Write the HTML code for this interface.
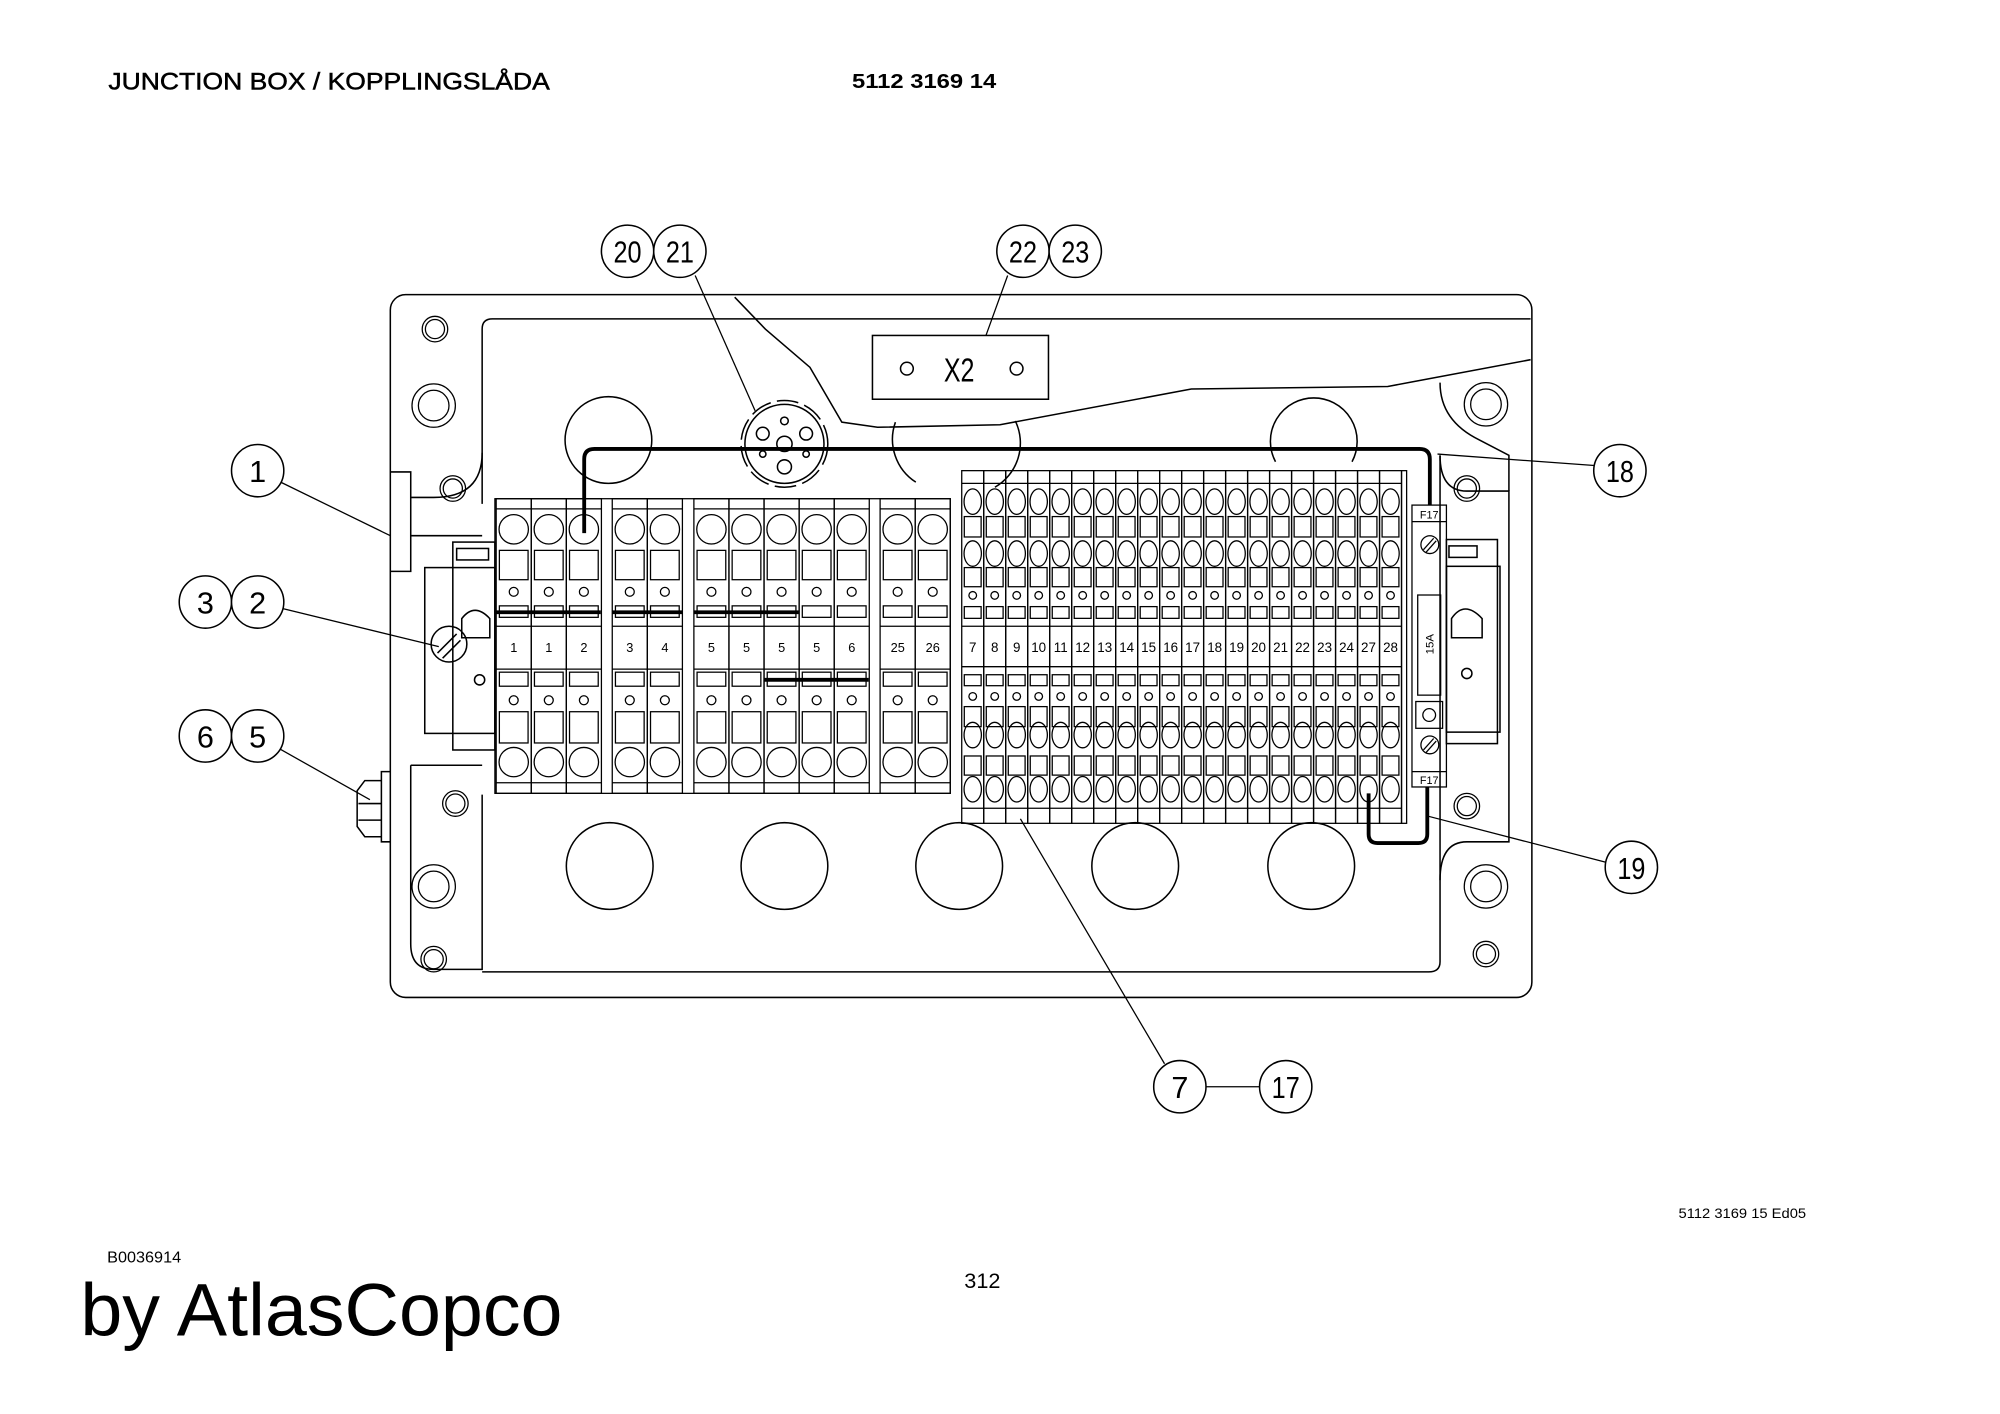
<!DOCTYPE html>
<html><head><meta charset="utf-8"><style>
html,body{margin:0;padding:0;background:#fff;}
svg{display:block;}
text{font-family:"Liberation Sans",sans-serif;}
</style></head><body>
<svg width="2000" height="1414" viewBox="0 0 1568 1108.6" xmlns="http://www.w3.org/2000/svg">
<defs>
<g id="lc" fill="none" stroke="#000" stroke-width="1">
 <rect x="0" y="391" width="27.5" height="231"/>
 <circle cx="13.75" cy="415" r="11.5"/>
 <rect x="2.5" y="431.5" width="22.5" height="23"/>
 <circle cx="13.75" cy="464" r="3.5"/>
 <rect x="2.5" y="475" width="22.5" height="9"/>
 <line x1="0" y1="491" x2="27.5" y2="491"/>
 <line x1="0" y1="524.6" x2="27.5" y2="524.6"/>
 <rect x="2.5" y="527" width="22.5" height="11"/>
 <circle cx="13.75" cy="549" r="3.5"/>
 <rect x="2.5" y="558" width="22.5" height="24.5"/>
 <circle cx="13.75" cy="597.5" r="11.5"/>
 <line x1="0" y1="399" x2="27.5" y2="399"/>
 <line x1="0" y1="613.7" x2="27.5" y2="613.7"/>
</g>
<g id="rc" fill="none" stroke="#000" stroke-width="1">
 <rect x="0" y="369" width="17.24" height="276.5"/>
 <line x1="0" y1="379" x2="17.24" y2="379"/>
 <ellipse cx="8.62" cy="393.3" rx="6.8" ry="10"/>
 <rect x="2" y="405" width="13.2" height="16"/>
 <ellipse cx="8.62" cy="434" rx="6.8" ry="10"/>
 <rect x="2" y="445" width="13.2" height="15"/>
 <circle cx="8.62" cy="466.8" r="3"/>
 <rect x="2" y="475.6" width="13.2" height="9.2"/>
 <line x1="0" y1="491" x2="17.24" y2="491"/>
 <line x1="0" y1="522.7" x2="17.24" y2="522.7"/>
 <rect x="2" y="529" width="13.2" height="8.6"/>
 <circle cx="8.62" cy="546" r="3"/>
 <rect x="2" y="554" width="13.2" height="15.7"/>
 <ellipse cx="8.62" cy="576.3" rx="6.8" ry="10"/>
 <rect x="2" y="592.7" width="13.2" height="15"/>
 <ellipse cx="8.62" cy="618.8" rx="6.8" ry="10"/>
 <line x1="0" y1="633.7" x2="17.24" y2="633.7"/>
</g>
<g id="sh" fill="none" stroke="#000" stroke-width="1"><circle r="10"/><circle r="7.5"/></g>
<g id="bh" fill="none" stroke="#000" stroke-width="1"><circle r="17"/><circle r="12"/></g>
</defs>

<text x="85" y="70" font-size="19" stroke="#000" stroke-width="0.4" textLength="346" lengthAdjust="spacingAndGlyphs">JUNCTION BOX / KOPPLINGSLÅDA</text>
<text x="668" y="69" font-size="16" font-weight="bold" textLength="113" lengthAdjust="spacingAndGlyphs">5112 3169 14</text>

<g fill="none" stroke="#000" stroke-width="1.2">
 <rect x="306" y="231" width="895" height="551" rx="12"/>
 <path d="M378 395 L378 258 Q378 250 386 250 L1200 250"/>
 <path d="M306 370 L322 370 L322 448 L306 448"/>
 <path d="M322 390 L340 390 Q378 390 378 355"/>
 <path d="M322 420 L378 420"/>
 <path d="M322 600 L378 600 M322 600 L322 740 Q322 760 340 760 L378 760 L378 623"/>
 <path d="M378 762 L1120 762 Q1129 762 1129 754 L1129 357"/>
 <path d="M1129 357 Q1129 385 1150 385 L1183 385 L1183 660 L1150 660 Q1129 660 1129 690"/>
 <path d="M1129 300 Q1129 330 1160 345 L1183 357 L1183 385"/>
 <path d="M576 233 L600 258 L635 288 L660 331 L688 335 L784 333 L934 305 L1088 303 L1200 282"/>
 <rect x="333" y="445" width="55" height="130"/>
 <rect x="355" y="425" width="33" height="163"/>
 <rect x="358" y="430" width="25" height="9"/>
 <path d="M362 500 L362 485 Q372 472 384 485 L384 500 Z"/>
 <circle cx="376" cy="533" r="4"/>
 <circle cx="352" cy="505" r="14"/>
 <line x1="343" y1="512" x2="358" y2="497"/><line x1="347" y1="516" x2="361" y2="502"/>
 <rect x="1134" y="423" width="40" height="160"/>
 <rect x="1134" y="444" width="42" height="130"/>
 <rect x="1136" y="428" width="22" height="9"/>
 <path d="M1138 500 L1138 485 Q1148 470 1162 485 L1162 500 Z"/>
 <circle cx="1150" cy="528" r="4"/>
 <path d="M306 605 L299 605 L299 660 L306 660 M299 612 L286 612 L280 620 L280 648 L286 656 L299 656 M281 630 L299 630 M281 643 L299 643"/>
 <circle cx="477" cy="345" r="34"/>
 <path d="M718 378 A40 40 0 0 1 702 331 M796 330 A40 40 0 0 1 780 382"/>
 <path d="M1000 362 A34 34 0 1 1 1060 362"/>
 <circle cx="478" cy="679" r="34"/><circle cx="615" cy="679" r="34"/><circle cx="752" cy="679" r="34"/>
 <circle cx="890" cy="679" r="34"/><circle cx="1028" cy="679" r="34"/>
 <rect x="684" y="263" width="138" height="50"/>
 <circle cx="711" cy="289" r="5"/><circle cx="797" cy="289" r="5"/>
 <circle cx="615" cy="348" r="31"/>
 <circle cx="615" cy="348" r="34" stroke-dasharray="17 5"/>
 <circle cx="615" cy="330" r="3"/><circle cx="598" cy="340" r="5"/><circle cx="632" cy="340" r="5"/>
 <circle cx="615" cy="348" r="6"/><circle cx="598" cy="356" r="2.5"/><circle cx="632" cy="356" r="2.5"/><circle cx="615" cy="366" r="5.5"/>
</g>
<text x="752" y="299" font-size="26" text-anchor="middle" textLength="24" lengthAdjust="spacingAndGlyphs">X2</text>
<g>
 <use href="#sh" x="341" y="258"/><use href="#bh" x="340" y="318"/><use href="#sh" x="355" y="383"/>
 <use href="#sh" x="357" y="630"/><use href="#bh" x="340" y="695"/><use href="#sh" x="340" y="752"/>
 <use href="#sh" x="1150" y="383"/><use href="#bh" x="1165" y="317"/>
 <use href="#sh" x="1150" y="632"/><use href="#bh" x="1165" y="695"/><use href="#sh" x="1165" y="748"/>
</g>

<rect x="388" y="391" width="357" height="231" fill="none" stroke="#000"/>
<g>
 <use href="#lc" x="389"/><use href="#lc" x="416.5"/><use href="#lc" x="444"/>
 <use href="#lc" x="480"/><use href="#lc" x="507.5"/>
 <use href="#lc" x="544"/><use href="#lc" x="571.5"/><use href="#lc" x="599"/><use href="#lc" x="626.5"/><use href="#lc" x="654"/>
 <use href="#lc" x="690"/><use href="#lc" x="717.5"/>
</g>
<g stroke="#000" stroke-width="3">
 <line x1="389" y1="480" x2="471" y2="480"/><line x1="480" y1="480" x2="535" y2="480"/><line x1="544" y1="480" x2="626" y2="480"/>
 <line x1="599" y1="533" x2="681" y2="533"/>
</g>
<g font-size="10" text-anchor="middle">
 <text x="402.8" y="511">1</text><text x="430.3" y="511">1</text><text x="457.8" y="511">2</text>
 <text x="493.8" y="511">3</text><text x="521.3" y="511">4</text>
 <text x="557.8" y="511">5</text><text x="585.3" y="511">5</text><text x="612.8" y="511">5</text><text x="640.3" y="511">5</text><text x="667.8" y="511">6</text>
 <text x="703.8" y="511">25</text><text x="731.3" y="511">26</text>
</g>

<g>
 <use href="#rc" x="754"/><use href="#rc" x="771.24"/><use href="#rc" x="788.48"/><use href="#rc" x="805.72"/><use href="#rc" x="822.96"/>
 <use href="#rc" x="840.2"/><use href="#rc" x="857.44"/><use href="#rc" x="874.68"/><use href="#rc" x="891.92"/><use href="#rc" x="909.16"/>
 <use href="#rc" x="926.4"/><use href="#rc" x="943.64"/><use href="#rc" x="960.88"/><use href="#rc" x="978.12"/><use href="#rc" x="995.36"/>
 <use href="#rc" x="1012.6"/><use href="#rc" x="1029.84"/><use href="#rc" x="1047.08"/><use href="#rc" x="1064.32"/><use href="#rc" x="1081.56"/>
</g>
<rect x="1098.8" y="369" width="4" height="276.5" fill="none" stroke="#000"/>
<g font-size="10.5" text-anchor="middle">
 <text x="762.6" y="511">7</text><text x="779.9" y="511">8</text><text x="797.1" y="511">9</text><text x="814.3" y="511">10</text><text x="831.6" y="511">11</text>
 <text x="848.8" y="511">12</text><text x="866.1" y="511">13</text><text x="883.3" y="511">14</text><text x="900.5" y="511">15</text><text x="917.8" y="511">16</text>
 <text x="935" y="511">17</text><text x="952.3" y="511">18</text><text x="969.5" y="511">19</text><text x="986.7" y="511">20</text><text x="1004" y="511">21</text>
 <text x="1021.2" y="511">22</text><text x="1038.5" y="511">23</text><text x="1055.7" y="511">24</text><text x="1072.9" y="511">27</text><text x="1090.2" y="511">28</text>
</g>

<g fill="none" stroke="#000" stroke-width="1">
 <rect x="1107" y="396" width="27" height="221"/>
 <line x1="1107" y1="409" x2="1134" y2="409"/>
 <line x1="1107" y1="605" x2="1134" y2="605"/>
 <circle cx="1121" cy="427" r="7"/><line x1="1116" y1="431" x2="1124" y2="422"/><line x1="1118" y1="433" x2="1126" y2="424"/>
 <rect x="1111.5" y="466.5" width="18" height="78.5"/>
 <rect x="1110" y="550" width="21" height="21"/><circle cx="1120.5" cy="560.6" r="5"/>
 <circle cx="1121" cy="584" r="7"/><line x1="1116" y1="588" x2="1124" y2="579"/><line x1="1118" y1="590" x2="1126" y2="581"/>
</g>
<text x="1120.5" y="406.5" font-size="8.5" text-anchor="middle">F17</text>
<text x="1120.5" y="614.5" font-size="8.5" text-anchor="middle">F17</text>
<text x="0" y="0" font-size="9" text-anchor="middle" transform="translate(1124 505) rotate(-90)">15A</text>

<g fill="none" stroke="#000" stroke-width="3" stroke-linejoin="round">
 <path d="M458 418 L458 360 Q458 352 466 352 L1113 352 Q1121 352 1121 360 L1121 396"/>
 <path d="M1073 622 L1073 654 Q1073 661 1080 661 L1112 661 Q1119 661 1119 654 L1119 617"/>
</g>

<g fill="none" stroke="#000" stroke-width="1">
 <line x1="545" y1="216" x2="592" y2="322"/>
 <line x1="790" y1="216" x2="773" y2="263"/>
 <line x1="220" y1="378" x2="306" y2="420"/>
 <line x1="221" y1="477" x2="344" y2="507"/>
 <line x1="219" y1="587" x2="290" y2="627"/>
 <line x1="1250" y1="365" x2="1127" y2="356"/>
 <line x1="1259" y1="676" x2="1120" y2="640"/>
 <line x1="913" y1="834" x2="800" y2="642"/>
 <line x1="945" y1="852" x2="988" y2="852"/>
</g>
<g fill="#fff" stroke="#000" stroke-width="1.2">
 <circle cx="492" cy="197" r="20.5"/><circle cx="533" cy="197" r="20.5"/>
 <circle cx="802" cy="197" r="20.5"/><circle cx="843" cy="197" r="20.5"/>
 <circle cx="202" cy="369" r="20.5"/>
 <circle cx="161" cy="472" r="20.5"/><circle cx="202" cy="472" r="20.5"/>
 <circle cx="161" cy="577" r="20.5"/><circle cx="202" cy="577" r="20.5"/>
 <circle cx="1270" cy="369" r="20.5"/><circle cx="1279" cy="680" r="20.5"/>
 <circle cx="925" cy="852" r="20.5"/><circle cx="1008" cy="852" r="20.5"/>
</g>
<g font-size="24" text-anchor="middle">
 <text x="492" y="206" textLength="22" lengthAdjust="spacingAndGlyphs">20</text><text x="533" y="206" textLength="22" lengthAdjust="spacingAndGlyphs">21</text>
 <text x="802" y="206" textLength="22" lengthAdjust="spacingAndGlyphs">22</text><text x="843" y="206" textLength="22" lengthAdjust="spacingAndGlyphs">23</text>
 <text x="202" y="378">1</text>
 <text x="161" y="481">3</text><text x="202" y="481">2</text>
 <text x="161" y="586">6</text><text x="202" y="586">5</text>
 <text x="1270" y="378" textLength="22" lengthAdjust="spacingAndGlyphs">18</text><text x="1279" y="689" textLength="22" lengthAdjust="spacingAndGlyphs">19</text>
 <text x="925" y="861">7</text><text x="1008" y="861" textLength="22" lengthAdjust="spacingAndGlyphs">17</text>
</g>

<text x="1316" y="955" font-size="11" textLength="100" lengthAdjust="spacingAndGlyphs">5112 3169 15 Ed05</text>
<text x="84" y="990" font-size="12" textLength="58" lengthAdjust="spacingAndGlyphs">B0036914</text>
<text x="756" y="1010" font-size="17">312</text>
<text x="63" y="1047" font-size="58" textLength="378" lengthAdjust="spacingAndGlyphs">by AtlasCopco</text>
</svg>
</body></html>
